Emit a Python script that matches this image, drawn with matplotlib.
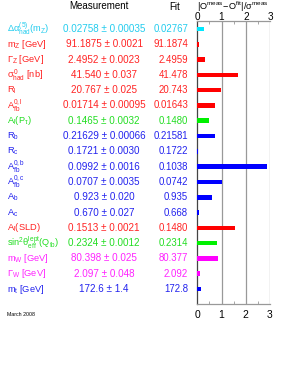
import numpy as np
import matplotlib
matplotlib.use('Agg')
from matplotlib import pyplot as plt
from matplotlib.transforms import blended_transform_factory

plt.rcParams['font.family'] = ['Liberation Sans', 'DejaVu Sans']
plt.rcParams['mathtext.fontset'] = 'custom'
plt.rcParams['mathtext.rm'] = 'Liberation Sans'
plt.rcParams['mathtext.it'] = 'Liberation Sans'
plt.rcParams['mathtext.bf'] = 'Liberation Sans:bold'

# -------------------------------
# Data
# -------------------------------
labels = [r'$\Delta\alpha^{(5)}_{\rm had}(\rm m_Z)$', r'$\rm m_Z$ [GeV]', r'$\Gamma_Z$ [GeV]',
          r'$\sigma^0_{\rm had}$ [nb]', r'$\rm R_l$', r'$\rm A^{0,l}_{fb}$', r'$\rm A_l(P_\tau)$',
          r'$\rm R_b$', r'$\rm R_c$', r'$\rm A^{0,b}_{fb}$', r'$\rm A^{0,c}_{fb}$', r'$\rm A_b$',
          r'$\rm A_c$', r'$\rm A_l$(SLD)', r'$\rm sin^2\theta^{lept}_{eff}(Q_{fb})$',
          r'$\rm m_W$ [GeV]', r'$\Gamma_W$ [GeV]', r'$\rm m_t$ [GeV]']
meas = ['0.02758 \u00b1 0.00035', '91.1875 \u00b1 0.0021', '2.4952 \u00b1 0.0023',
        '41.540 \u00b1 0.037', '20.767 \u00b1 0.025', '0.01714 \u00b1 0.00095',
        '0.1465 \u00b1 0.0032', '0.21629 \u00b1 0.00066', '0.1721 \u00b1 0.0030',
        '0.0992 \u00b1 0.0016', '0.0707 \u00b1 0.0035', '0.923 \u00b1 0.020',
        '0.670 \u00b1 0.027', '0.1513 \u00b1 0.0021', '0.2324 \u00b1 0.0012',
        '80.398 \u00b1 0.025', '2.097 \u00b1 0.048', '172.6 \u00b1 1.4']
fit = ['0.02767', '91.1874', '2.4959', '41.478', '20.743', '0.01643', '0.1480', '0.21581',
       '0.1722', '0.1038', '0.0742', '0.935', '0.668', '0.1480', '0.2314', '80.377',
       '2.092', '172.8']
pulls = [0.26, 0.05, 0.30, 1.68, 0.96, 0.75, 0.47, 0.73, 0.03, 2.88, 1.00, 0.60, 0.07,
         1.57, 0.83, 0.84, 0.10, 0.14]
cols = ['c', 'r', 'r', 'r', 'r', 'r', 'g', 'b', 'b', 'b', 'b', 'b', 'b', 'r', 'g', 'm', 'm', 'b']

cmap = {'c': '#00e8ff', 'r': '#ff0000', 'g': '#00f000', 'b': '#0000ff', 'm': '#ff00ff'}
tcol = {'c': '#22ccee', 'r': '#ff2222', 'g': '#22dd22', 'b': '#2222ee', 'm': '#ff22ff'}

# -------------------------------
# Plot
# -------------------------------
fig = plt.figure(figsize=(3.0, 3.88), dpi=100)
ax = fig.add_axes([0.6577, 0.2165, 0.2423, 0.7294])

y = -np.arange(len(pulls))
for i in range(len(pulls)):
    ax.barh(y[i], pulls[i], height=0.3, left=0, color=cmap[cols[i]], zorder=3)

ax.set_xlim(0, 3)
ax.set_ylim(-17.98, 0.52)
for v in [1, 2, 3]:
    ax.axvline(v, color='#999999', lw=0.9, zorder=1)

ax.spines['right'].set_visible(False)
ax.spines['left'].set_color('#444444')
ax.spines['bottom'].set_color('#999999')
ax.spines['top'].set_color('#999999')
for s in ['left', 'bottom', 'top']:
    ax.spines[s].set_linewidth(0.9)
ax.set_yticks([])
ax.set_xticks([0, 1, 2, 3])
ax.set_xticks([0.5, 1.5, 2.5], minor=True)
ax.tick_params(axis='x', which='both', direction='in', top=True, bottom=True,
               labeltop=False, labelbottom=True, labelsize=7.5, pad=4.5, color='#999999')
ax.tick_params(axis='x', which='major', length=0)
ax.tick_params(axis='x', which='minor', length=2)

top = ax.secondary_xaxis('top')
top.set_xticks([0, 1, 2, 3])
top.tick_params(axis='x', which='both', length=0, labelsize=7.2, pad=-0.8)
top.spines['top'].set_visible(False)

tr = blended_transform_factory(fig.transFigure, ax.transData)
for i in range(len(pulls)):
    ax.text(7/300, y[i], labels[i], transform=tr, ha='left', va='center',
            fontsize=6.7, color=tcol[cols[i]])
    ax.text(104/300, y[i], meas[i], transform=tr, ha='center', va='center',
            fontsize=7.1, color=tcol[cols[i]])
    ax.text(188/300, y[i], fit[i], transform=tr, ha='right', va='center',
            fontsize=6.9, color=tcol[cols[i]])

fig.text(99/300, 1 - 6/388, 'Measurement', ha='center', va='center', fontsize=7.0)
fig.text(175/300, 1 - 7/388, 'Fit', ha='center', va='center', fontsize=7.0)
fig.text(233/300, 1 - 9.5/388, r'$\rm |O^{meas}\!-\!O^{fit}|/\sigma^{meas}$', ha='center',
         va='baseline', fontsize=6.6)
fig.text(7/300, 1 - 314/388, 'March 2008', ha='left', va='center', fontsize=3.8)

fig.savefig('out.png', dpi=100)
